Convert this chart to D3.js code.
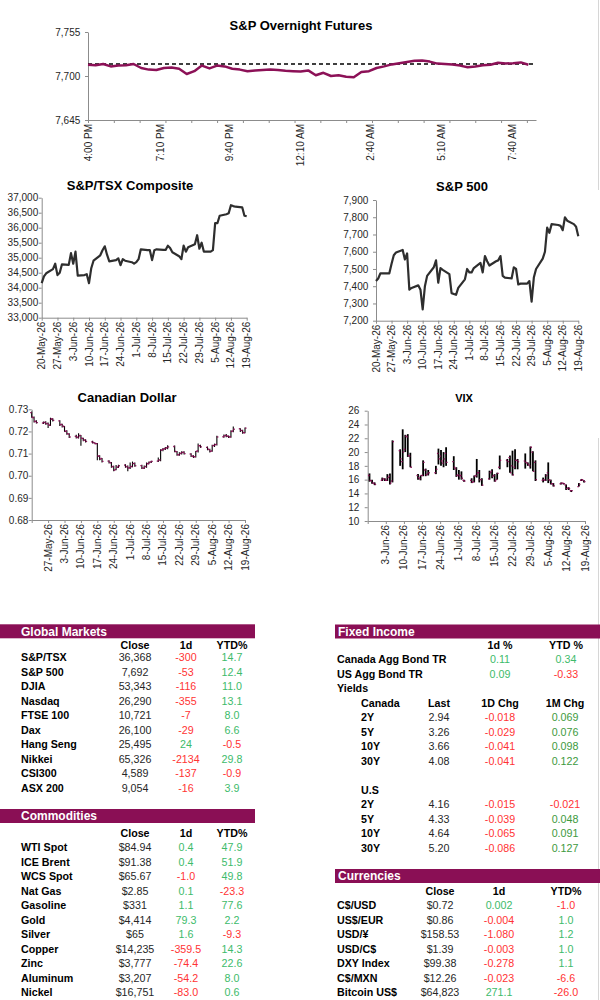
<!DOCTYPE html>
<html><head><meta charset="utf-8">
<script src="https://cdn.jsdelivr.net/npm/d3@7"></script>
<style>
body{margin:0;background:#fff;}
svg{display:block;font-family:Arial,"Liberation Sans",sans-serif;}
</style>
</head><body>
<svg id="c" width="600" height="1000"></svg>
<script>
// ---------------- DATA ----------------
const futLabels = ['4:00 PM','7:10 PM','9:40 PM','12:10 AM','2:40 AM','5:10 AM','7:40 AM'];
const futLabelIdx = [0, 9.6, 18.7, 28.05, 37.27, 46.62, 55.84];
const futPrevClose = 7715;
const futValues = [7714,7713.5,7715,7712,7713,7713.5,7715,7710,7708,7707.5,
  7710,7710.5,7709,7702.5,7706,7713,7709.5,7713,7712,7709,
  7708,7706,7707,7707.5,7708,7707.5,7706.5,7706,7705.5,7707,
  7701,7704,7700,7701,7699,7698.5,7705,7706,7710,7712,
  7714.5,7716,7717.5,7719,7719.5,7718,7715.5,7715,7714.5,7713,
  7711,7712,7713.5,7714,7716.5,7715.5,7716,7717,7714];
const futYTicks = [7645,7700,7755];

const tsxValues = [34150,34380,34480,34620,34800,34420,34500,34780,34760,35150,
  34800,35200,34400,34420,34450,34150,34650,34900,35080,35250,
  35380,35100,34880,34920,34980,34750,34950,34900,34850,34800,
  34850,34950,35280,35250,35250,34920,35250,35280,35260,35260,
  35400,35320,35180,35050,34950,35400,35200,35350,35450,35750,
  35300,35500,35200,35200,35250,36150,36150,36400,36450,36480,
  36750,36720,36700,36680,36400,36380];
const tsxYTicks = [33000,33500,34000,34500,35000,35500,36000,36500,37000];

const spxValues = [7430,7445,7475,7475,7475,7530,7580,7595,7610,7555,
  7590,7380,7390,7405,7380,7265,7400,7460,7510,7550,
  7420,7505,7495,7470,7360,7355,7350,7390,7440,7500,
  7480,7480,7505,7535,7480,7575,7545,7520,7545,7550,
  7575,7460,7450,7445,7510,7500,7410,7415,7415,7430,
  7310,7450,7500,7560,7600,7740,7710,7760,7755,7750,
  7725,7800,7780,7760,7745,7690];
const spxYTicks = [7200,7300,7400,7500,7600,7700,7800,7900];

const cadOpen = [0.7285,0.7262,0.7246,0.7238,0.7242,0.7236,0.7228,0.7258,0.7248,0.7232,
  0.7222,0.7202,0.7188,0.7178,0.7172,0.7182,0.7168,0.7162,0.7153,0.7148,
  0.7145,0.7088,0.7078,0.7066,0.7058,0.7042,0.7028,0.7038,0.7048,0.7042,
  0.7036,0.7042,0.7056,0.7046,0.7034,0.7042,0.7054,0.7062,0.7066,0.7072,
  0.7118,0.7122,0.7127,0.7132,0.7108,0.7094,0.7102,0.7106,0.7098,0.7088,
  0.7086,0.7112,0.7136,0.7128,0.7118,0.7112,0.7137,0.7142,0.7176,0.7182,
  0.7178,0.7176,0.7202,0.7212,0.7204,0.7194];
const cadHigh = [0.7290,0.7268,0.7250,0.7245,0.7246,0.7240,0.7262,0.7260,0.7250,0.7235,
  0.7225,0.7205,0.7192,0.7185,0.7192,0.7184,0.7172,0.7165,0.7158,0.7150,
  0.7148,0.7092,0.7080,0.7070,0.7062,0.7045,0.7048,0.7050,0.7052,0.7046,
  0.7060,0.7064,0.7060,0.7050,0.7046,0.7060,0.7064,0.7068,0.7082,0.7120,
  0.7125,0.7130,0.7138,0.7136,0.7112,0.7106,0.7110,0.7110,0.7102,0.7092,
  0.7112,0.7145,0.7140,0.7132,0.7122,0.7140,0.7145,0.7180,0.7186,0.7188,
  0.7182,0.7205,0.7222,0.7214,0.7208,0.7218];
const cadLow = [0.7262,0.7240,0.7236,0.7234,0.7230,0.7215,0.7225,0.7245,0.7225,0.7218,
  0.7198,0.7185,0.7170,0.7168,0.7168,0.7135,0.7156,0.7150,0.7146,0.7142,
  0.7070,0.7070,0.7060,0.7055,0.7036,0.7020,0.7025,0.7035,0.7036,0.7020,
  0.7030,0.7038,0.7040,0.7030,0.7030,0.7036,0.7052,0.7058,0.7062,0.7065,
  0.7110,0.7116,0.7120,0.7106,0.7090,0.7090,0.7096,0.7096,0.7085,0.7080,
  0.7082,0.7105,0.7126,0.7115,0.7105,0.7108,0.7130,0.7136,0.7172,0.7174,
  0.7170,0.7172,0.7196,0.7198,0.7190,0.7192];
const cadClose = [0.7265,0.7245,0.7240,0.7240,0.7235,0.7230,0.7255,0.7250,0.7230,0.7225,
  0.7200,0.7190,0.7175,0.7175,0.7180,0.7170,0.7160,0.7155,0.7150,0.7145,
  0.7090,0.7075,0.7065,0.7060,0.7040,0.7025,0.7040,0.7045,0.7040,0.7035,
  0.7040,0.7055,0.7045,0.7035,0.7040,0.7055,0.7060,0.7065,0.7070,0.7115,
  0.7120,0.7125,0.7130,0.7110,0.7095,0.7100,0.7105,0.7100,0.7090,0.7085,
  0.7110,0.7135,0.7130,0.7120,0.7110,0.7135,0.7140,0.7175,0.7180,0.7180,
  0.7175,0.7200,0.7210,0.7205,0.7195,0.7215];
const cadYTicks = [0.68,0.69,0.70,0.71,0.72,0.73];

const vixOpen = [16.6,15.8,15.5,15.9,16.1,15.9,16.5,15.8,20.2,18.6,
  20.4,22.2,19.4,16.6,16.1,16.6,17.4,16.8,17.0,19.8,
  19.4,18.4,19.8,18.6,17.6,16.7,16.6,15.9,15.9,15.7,
  16.6,17.0,16.0,16.1,17.2,16.6,16.0,17.8,18.8,19.2,
  18.0,17.8,18.8,18.7,18.4,18.0,20.0,18.5,15.9,15.9,
  17.0,15.9,15.4,15.4,15.5,15.2,14.8,14.4,15.0,15.9,15.9];
const vixHigh = [16.9,16.0,15.6,16.3,16.2,16.8,16.9,21.7,20.4,23.3,
  22.5,22.6,19.9,16.8,16.6,18.8,17.6,17.4,18.0,20.5,
  20.3,20.0,20.7,19.4,17.8,17.4,17.2,16.0,16.2,16.6,
  19.0,17.4,16.2,17.3,17.5,16.8,17.0,19.5,19.0,19.5,
  20.2,20.4,19.0,19.8,18.5,20.8,20.1,18.8,16.3,16.8,
  18.5,16.0,15.5,15.6,15.5,15.3,14.9,14.5,15.5,16.1,15.9];
const vixLow = [15.7,15.4,15.2,15.8,15.8,15.8,15.3,15.6,18.0,17.5,
  20.0,19.3,17.8,16.0,15.9,16.5,16.5,16.6,16.8,18.2,
  18.0,17.8,18.0,17.4,16.4,16.0,16.0,15.7,15.5,15.6,
  16.3,15.6,15.1,16.0,16.2,15.7,16.0,17.5,17.8,17.0,
  16.6,17.5,17.5,17.6,18.0,17.6,17.2,15.8,15.6,15.8,
  15.5,15.3,15.0,15.3,15.3,14.5,14.5,14.2,15.0,15.8,15.6];
const vixClose = [15.9,15.5,15.3,16.1,15.9,16.3,15.5,21.5,19.0,20.0,
  22.3,19.5,17.8,16.3,16.6,18.5,16.7,17.0,17.5,19.0,
  18.7,19.0,18.5,17.8,16.6,16.5,16.2,15.8,15.6,16.5,
  17.0,16.0,15.2,17.0,16.5,15.8,16.9,18.8,18.6,17.0,
  16.7,18.8,18.6,18.5,18.2,20.7,17.2,16.0,16.0,16.6,
  16.0,15.4,15.1,15.5,15.4,14.7,14.7,14.4,15.3,16.0,15.7];
const vixYTicks = [10,12,14,16,18,20,22,24,26];

const gmNames = ['S&P/TSX','S&P 500','DJIA','Nasdaq','FTSE 100','Dax','Hang Seng','Nikkei','CSI300','ASX 200'];
const gmClose = ['36,368','7,692','53,343','26,290','10,721','26,100','25,495','65,326','4,589','9,054'];
const gm1d = ['-300','-53','-116','-355','-7','-29','24','-2134','-137','-16'];
const gmYtd = ['14.7','12.4','11.0','13.1','8.0','6.6','-0.5','29.8','-0.9','3.9'];

const coNames = ['WTI Spot','ICE Brent','WCS Spot','Nat Gas','Gasoline','Gold','Silver','Copper','Zinc','Aluminum','Nickel'];
const coClose = ['$84.94','$91.38','$65.67','$2.85','$331','$4,414','$65','$14,235','$3,777','$3,207','$16,751'];
const co1d = ['0.4','0.4','-1.0','0.1','1.1','79.3','1.6','-359.5','-74.4','-54.2','-83.0'];
const coYtd = ['47.9','51.9','49.8','-23.3','77.6','2.2','-9.3','14.3','22.6','8.0','0.6'];

const fxNames = ['C$/USD','US$/EUR','USD/¥','USD/C$','DXY Index','C$/MXN','Bitcoin US$'];
const fxClose = ['$0.72','$0.86','$158.53','$1.39','$99.38','$12.26','$64,823'];
const fx1d = ['0.002','-0.004','-1.080','-0.003','-0.278','-0.023','271.1'];
const fxYtd = ['-1.0','1.0','1.2','1.0','1.1','-6.6','-26.0'];

const aggNames = ['Canada Agg Bond TR','US Agg Bond TR'];
const agg1d = ['0.11','0.09'];
const aggYtd = ['0.34','-0.33'];
const tenors = ['2Y','5Y','10Y','30Y'];
const caLast = ['2.94','3.26','3.66','4.08'];
const ca1d = ['-0.018','-0.029','-0.041','-0.041'];
const ca1m = ['0.069','0.076','0.098','0.122'];
const usLast = ['4.16','4.33','4.64','5.20'];
const us1d = ['-0.015','-0.039','-0.065','-0.086'];
const us1m = ['-0.021','0.048','0.091','0.127'];

// ---------------- SETUP ----------------
const AX = '#8c8c8c', TXT = '#262626', PURPLE = '#8c1157', RED = '#ff3333',
      GREEN = '#3dbb6a', DKGREEN = '#3d9a3d', HDR = '#8a0f55', FONT = 'Arial, "Liberation Sans", sans-serif';
const svg = d3.select('#c');
const parse = d3.timeParse('%Y-%m-%d');
const fmtDate = d3.timeFormat('%-d-%b-%y');
function bizDays(s, e) {
  return d3.timeDay.range(parse(s), d3.timeDay.offset(parse(e), 1)).filter(d => d.getDay() !== 0 && d.getDay() !== 6);
}
function weeks(s, e) { return d3.timeDay.range(parse(s), d3.timeDay.offset(parse(e), 1), 7); }

function styleAxis(sel) {
  sel.attr('font-family', FONT).attr('font-size', 10);
  sel.select('.domain').attr('stroke', AX).attr('stroke-width', 1);
  sel.selectAll('.tick line').attr('stroke', AX);
  sel.selectAll('.tick text').attr('fill', TXT);
}
function drawAxes(g, x, y, yTicks, yFmt, yPad, xTicks, xLabels, xFmt) {
  const x0 = x.range()[0], yb = y.range()[0];
  g.append('g').attr('transform', `translate(${x0},0)`)
    .call(d3.axisLeft(y).tickValues(yTicks).tickFormat(yFmt).tickSize(3).tickSizeOuter(0).tickPadding(yPad))
    .call(styleAxis);
  g.append('g').attr('transform', `translate(0,${yb})`)
    .call(d3.axisBottom(x).tickValues(xTicks).tickFormat('').tickSize(3).tickSizeOuter(0))
    .call(styleAxis);
  g.append('g').selectAll('text').data(xLabels).join('text')
    .attr('transform', d => `translate(${x(d)},${yb + 4}) rotate(-90)`)
    .attr('text-anchor', 'end').attr('dy', '0.35em')
    .attr('font-family', FONT).attr('font-size', 10).attr('fill', TXT)
    .text(xFmt);
}
function title(x, y, s, size) {
  svg.append('text').attr('x', x).attr('y', y).attr('text-anchor', 'middle').attr('dy', '0.35em')
    .attr('font-family', FONT).attr('font-weight', 'bold').attr('font-size', size).attr('fill', '#000').text(s);
}

// faint frame lines at right edge
svg.append('line').attr('x1', 598.5).attr('x2', 598.5).attr('y1', 0).attr('y2', 190).attr('stroke', '#d6d6d6');
svg.append('line').attr('x1', 598.5).attr('x2', 598.5).attr('y1', 438).attr('y2', 1000).attr('stroke', '#d6d6d6');

// ---------------- S&P OVERNIGHT FUTURES ----------------
{
  const g = svg.append('g');
  const x = d3.scaleLinear().domain([0, futValues.length]).range([88, 536]);
  const y = d3.scaleLinear().domain([7645, 7755]).range([120, 32]);
  drawAxes(g, x, y, futYTicks, d3.format(','), 4.7, d3.range(0, futValues.length, 3.4), futLabelIdx, (d, i) => futLabels[i]);
  g.append('line').attr('x1', x(0)).attr('x2', x(futValues.length)).attr('y1', y(futPrevClose)).attr('y2', y(futPrevClose))
    .attr('stroke', '#000').attr('stroke-width', 1.3).attr('stroke-dasharray', '4,3');
  g.append('path').datum(futValues)
    .attr('d', d3.line().x((d, i) => x(i)).y(d => y(d)))
    .attr('fill', 'none').attr('stroke', PURPLE).attr('stroke-width', 2.5).attr('stroke-linejoin', 'round');
  title(301, 25, 'S&P Overnight Futures', 13);
}

// ---------------- S&P/TSX ----------------
const datesFull = bizDays('2026-05-20', '2026-08-19');
const weeksFull = weeks('2026-05-20', '2026-08-19');
{
  const g = svg.append('g');
  const x = d3.scaleTime().domain([datesFull[0], datesFull[datesFull.length - 1]]).range([41.7, 246.7]);
  const y = d3.scaleLinear().domain([33000, 37000]).range([317.7, 197.7]);
  drawAxes(g, x, y, tsxYTicks, d3.format(','), 0.5, weeksFull, weeksFull, fmtDate);
  g.append('path').datum(tsxValues)
    .attr('d', d3.line().x((d, i) => x(datesFull[i])).y(d => y(d)))
    .attr('fill', 'none').attr('stroke', '#2e2e2e').attr('stroke-width', 2.2).attr('stroke-linejoin', 'round');
  title(130, 185, 'S&P/TSX Composite', 13);
}

// ---------------- S&P 500 ----------------
{
  const g = svg.append('g');
  const x = d3.scaleTime().domain([datesFull[0], datesFull[datesFull.length - 1]]).range([376, 578.3]);
  const y = d3.scaleLinear().domain([7200, 7900]).range([320.7, 200]);
  drawAxes(g, x, y, spxYTicks, d3.format(','), 4.7, weeksFull, weeksFull, fmtDate);
  g.append('path').datum(spxValues)
    .attr('d', d3.line().x((d, i) => x(datesFull[i])).y(d => y(d)))
    .attr('fill', 'none').attr('stroke', '#2e2e2e').attr('stroke-width', 2.2).attr('stroke-linejoin', 'round');
  title(462, 186, 'S&P 500', 13);
}

function ohlc(g, x, y, dates, o, h, l, c, w, tick) {
  const idx = d3.range(dates.length);
  g.append('g').selectAll('line').data(idx).join('line')
    .attr('x1', i => x(dates[i])).attr('x2', i => x(dates[i]))
    .attr('y1', i => y(h[i])).attr('y2', i => y(l[i]))
    .attr('stroke', '#000').attr('stroke-width', w);
  g.append('g').selectAll('line').data(idx).join('line')
    .attr('x1', i => x(dates[i]) - tick).attr('x2', i => x(dates[i]))
    .attr('y1', i => y(o[i])).attr('y2', i => y(o[i]))
    .attr('stroke', PURPLE).attr('stroke-width', 1.3);
  g.append('g').selectAll('line').data(idx).join('line')
    .attr('x1', i => x(dates[i])).attr('x2', i => x(dates[i]) + tick)
    .attr('y1', i => y(c[i])).attr('y2', i => y(c[i]))
    .attr('stroke', PURPLE).attr('stroke-width', 1.3);
}

// ---------------- CANADIAN DOLLAR ----------------
{
  const g = svg.append('g');
  const x = d3.scaleTime().domain([datesFull[0], datesFull[datesFull.length - 1]]).range([31.7, 245]);
  const y = d3.scaleLinear().domain([0.68, 0.73]).range([520, 409.3]);
  drawAxes(g, x, y, cadYTicks, d3.format('.2f'), 0.4, weeksFull, weeksFull.slice(1), fmtDate);
  ohlc(g, x, y, datesFull, cadOpen, cadHigh, cadLow, cadClose, 1.1, 1.5);
  title(127, 397, 'Canadian Dollar', 13);
}

// ---------------- VIX ----------------
{
  const g = svg.append('g');
  const dates = bizDays('2026-05-27', '2026-08-19');
  const wk = weeks('2026-05-27', '2026-08-19');
  const x = d3.scaleTime().domain([dates[0], dates[dates.length - 1]]).range([367.7, 585]);
  const y = d3.scaleLinear().domain([10, 26]).range([521, 410.7]);
  drawAxes(g, x, y, vixYTicks, d3.format('d'), 5.4, wk, wk.slice(1), fmtDate);
  const xs = d3.scaleTime().domain(x.domain()).range([369.5, 584]);
  ohlc(g, xs, y, dates, vixOpen, vixHigh, vixLow, vixClose, 1.8, 1.5);
  title(464, 398, 'VIX', 11);
}

// ---------------- TABLES ----------------
function t(x, y, s, opt = {}) {
  svg.append('text').attr('x', x).attr('y', y).attr('dy', '0.35em')
    .attr('text-anchor', opt.anchor || 'start')
    .attr('font-family', FONT).attr('font-size', opt.size || 10.7)
    .attr('font-weight', opt.bold ? 'bold' : 'normal')
    .attr('fill', opt.fill || TXT).text(s);
}
function signCol(s, pos) { return s.trim().startsWith('-') ? RED : (pos || GREEN); }
function header(x, y, w, s) {
  svg.append('rect').attr('x', x).attr('y', y).attr('width', w).attr('height', 14).attr('fill', HDR);
  t(x + (x === 0 ? 21 : 3), y + 7, s, { bold: true, size: 12, fill: '#fff' });
}
function simpleTable(x0, barY, colY, rowY, names, close, d1, ytd, cols) {
  header(x0 === 21 ? 0 : 335, barY, x0 === 21 ? 255 : 265, cols.title);
  t(cols.close, colY, 'Close', { bold: true, anchor: 'middle', fill: '#000' });
  t(cols.d1, colY, '1d', { bold: true, anchor: 'middle', fill: '#000' });
  t(cols.ytd, colY, 'YTD%', { bold: true, anchor: 'middle', fill: '#000' });
  names.forEach((n, i) => {
    const y = rowY + i * 14.5;
    t(x0, y, n, { bold: true, fill: '#000' });
    t(cols.close, y, close[i], { anchor: 'middle' });
    t(cols.d1, y, d1[i], { anchor: 'middle', fill: signCol(d1[i]) });
    t(cols.ytd, y, ytd[i], { anchor: 'middle', fill: signCol(ytd[i]) });
  });
}
simpleTable(21, 624.3, 645, 657.7, gmNames, gmClose, gm1d, gmYtd, { title: 'Global Markets', close: 135, d1: 186, ytd: 232 });
simpleTable(21, 809, 833, 847.7, coNames, coClose, co1d, coYtd, { title: 'Commodities', close: 135, d1: 186, ytd: 232 });
simpleTable(337, 869, 891.7, 905.7, fxNames, fxClose, fx1d, fxYtd, { title: 'Currencies', close: 440, d1: 499, ytd: 566 });

// Fixed income
{
  header(335, 624.5, 265, 'Fixed Income');
  const L = k => 645 + k * 14.5;
  t(500, L(0), '1d %', { bold: true, anchor: 'middle', fill: '#000' });
  t(566, L(0), 'YTD %', { bold: true, anchor: 'middle', fill: '#000' });
  aggNames.forEach((n, i) => {
    t(337, L(1 + i), n, { bold: true, fill: '#000' });
    t(500, L(1 + i), agg1d[i], { anchor: 'middle', fill: signCol(agg1d[i]) });
    t(566, L(1 + i), aggYtd[i], { anchor: 'middle', fill: signCol(aggYtd[i]) });
  });
  t(337, L(3), 'Yields', { bold: true, fill: '#000' });
  t(361, L(4), 'Canada', { bold: true, fill: '#000' });
  t(439, L(4), 'Last', { bold: true, anchor: 'middle', fill: '#000' });
  t(500, L(4), '1D Chg', { bold: true, anchor: 'middle', fill: '#000' });
  t(565, L(4), '1M Chg', { bold: true, anchor: 'middle', fill: '#000' });
  const block = (k0, last, d1, m1) => tenors.forEach((n, i) => {
    t(361, L(k0 + i), n, { bold: true, fill: '#000' });
    t(439, L(k0 + i), last[i], { anchor: 'middle' });
    t(500, L(k0 + i), d1[i], { anchor: 'middle', fill: signCol(d1[i]) });
    t(565, L(k0 + i), m1[i], { anchor: 'middle', fill: signCol(m1[i], DKGREEN) });
  });
  block(5, caLast, ca1d, ca1m);
  t(361, L(10), 'U.S', { bold: true, fill: '#000' });
  block(11, usLast, us1d, us1m);
}
</script>
</body></html>
